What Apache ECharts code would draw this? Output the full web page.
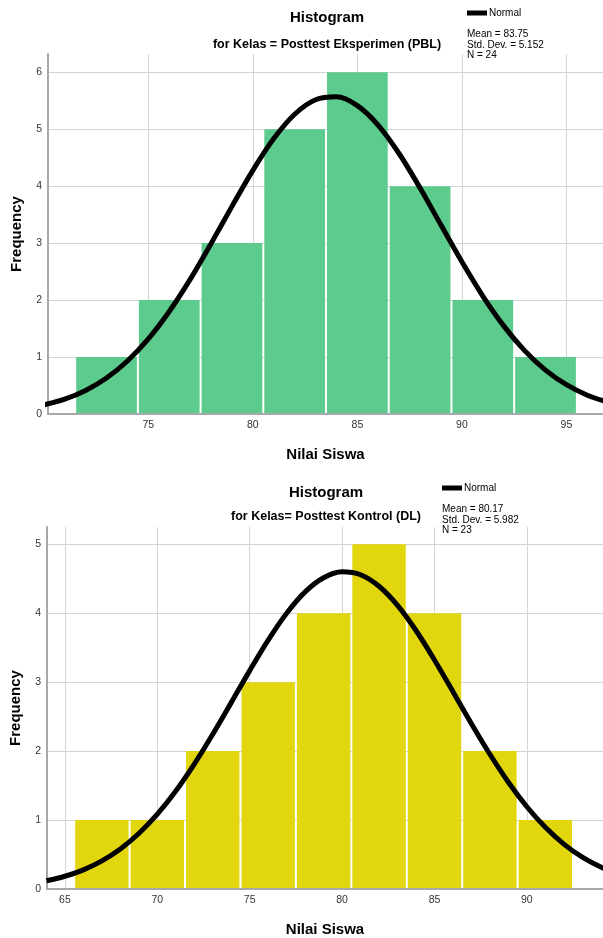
<!DOCTYPE html>
<html><head><meta charset="utf-8">
<script src="https://cdn.jsdelivr.net/npm/echarts@6/dist/echarts.min.js"></script>
<style>html,body{margin:0;padding:0;background:#fff}#c{width:603px;height:938px}</style>
</head><body><div id="c"></div>
<script>
// ---------- Data: top histogram (Posttest Eksperimen (PBL)) ----------
const binWidth = 3;
const topBinStarts = [71.5, 74.5, 77.5, 80.5, 83.5, 86.5, 89.5, 92.5];
const topCounts    = [1, 2, 3, 5, 6, 4, 2, 1];
const topCurveX = [70,71,72,73,74,75,76,77,78,79,80,81,82,83,84,85,86,87,88,89,90,91,92,93,94,95,96,97];
const topCurveY = [0.158,0.261,0.414,0.632,0.930,1.318,1.799,2.363,2.991,3.645,4.278,4.835,5.263,5.516,5.568,5.413,5.068,4.569,3.967,3.317,2.671,2.071,1.547,1.113,0.771,0.514,0.330,0.204];
const topXTicks = [75, 80, 85, 90, 95];
const topYTicks = [0, 1, 2, 3, 4, 5, 6];
const topStats = ['Mean = 83.75', 'Std. Dev. = 5.152', 'N = 24'];
const topSubtitle = 'for Kelas = Posttest Eksperimen (PBL)';

// ---------- Data: bottom histogram (Posttest Kontrol (DL)) ----------
const botBinStarts = [65.5, 68.5, 71.5, 74.5, 77.5, 80.5, 83.5, 86.5, 89.5];
const botCounts    = [1, 1, 2, 3, 4, 5, 4, 2, 1];
const botCurveX = [64,65,66,67,68,69,70,71,72,73,74,75,76,77,78,79,80,81,82,83,84,85,86,87,88,89,90,91,92,93,94,95];
const botCurveY = [0.119,0.185,0.278,0.408,0.581,0.805,1.085,1.421,1.811,2.244,2.703,3.167,3.609,3.999,4.309,4.514,4.600,4.558,4.391,4.114,3.749,3.322,2.862,2.398,1.954,1.548,1.193,0.894,0.651,0.461,0.318,0.213];
const botXTicks = [65, 70, 75, 80, 85, 90];
const botYTicks = [0, 1, 2, 3, 4, 5];
const botStats = ['Mean = 80.17', 'Std. Dev. = 5.982', 'N = 23'];
const botSubtitle = 'for Kelas= Posttest Kontrol (DL)';

const FONT = 'Liberation Sans, Arial, sans-serif';
const NARROW = 'Liberation Sans Narrow, Arial Narrow, Liberation Sans, sans-serif';

function binsData(starts, counts) {
  return starts.map((s, i) => [s, s + binWidth, counts[i]]);
}
function curveData(xs, ys) {
  return xs.map((x, i) => [x, ys[i]]);
}
function barRenderer(color) {
  return function (params, api) {
    const p0 = api.coord([api.value(0), api.value(2)]);
    const p1 = api.coord([api.value(1), 0]);
    return {
      type: 'rect',
      shape: { x: p0[0] + 1, y: p0[1], width: p1[0] - p0[0] - 2, height: p1[1] - p0[1] - 1 },
      style: { fill: color }
    };
  };
}
function xAxisCfg(gridIndex, min, max, ticks) {
  return {
    type: 'value', gridIndex, min, max,
    name: 'Nilai Siswa', nameLocation: 'middle', nameGap: 33,
    nameTextStyle: { fontSize: 15, fontWeight: 'bold', color: '#000', fontFamily: FONT },
    axisLine: { show: true, lineStyle: { color: '#a8a8a8', width: 2 } },
    axisTick: { show: false, customValues: ticks },
    axisLabel: { customValues: ticks, fontSize: 10.5, color: '#333', margin: 6, fontFamily: FONT },
    splitLine: { show: true, lineStyle: { color: '#d4d4d4', width: 1 } }
  };
}
function yAxisCfg(gridIndex, max, ticks) {
  return {
    type: 'value', gridIndex, min: 0, max,
    name: 'Frequency', nameLocation: 'middle', nameGap: 24,
    nameTextStyle: { fontSize: 15, fontWeight: 'bold', color: '#000', fontFamily: FONT },
    axisLine: { show: true, lineStyle: { color: '#a8a8a8', width: 2 } },
    axisTick: { show: false, customValues: ticks },
    axisLabel: { customValues: ticks, fontSize: 10.5, color: '#333', margin: 6, fontFamily: FONT },
    splitLine: { show: true, lineStyle: { color: '#d4d4d4', width: 1 } }
  };
}
function textEl(x, y, text, size, weight, family, align) {
  return { type: 'text', x, y, style: { text, fontSize: size, fontWeight: weight, fontFamily: family,
    fill: '#000', textAlign: align || 'center', textVerticalAlign: 'middle' } };
}
function statsEl(x, y, lines) {
  return { type: 'text', x, y, style: { text: lines.join('\n'), fontSize: 10, lineHeight: 10.5,
    fontFamily: NARROW, fill: '#000', textAlign: 'left', textVerticalAlign: 'top' } };
}

const chart = echarts.init(document.getElementById('c'), null, { renderer: 'canvas' });
chart.setOption({
  animation: false,
  backgroundColor: '#fff',
  grid: [
    { left: 48, top: 54, width: 555, height: 360, containLabel: false, outerBoundsMode: 'none' },
    { left: 47, top: 527, width: 556, height: 362, containLabel: false, outerBoundsMode: 'none' }
  ],
  xAxis: [
    xAxisCfg(0, 70.2, 96.75, topXTicks),
    xAxisCfg(1, 64.03, 94.12, botXTicks)
  ],
  yAxis: [
    yAxisCfg(0, 6.32, topYTicks),
    yAxisCfg(1, 5.25, botYTicks)
  ],
  legend: [
    { data: ['Normal'], left: 467, top: 8, itemWidth: 20, itemHeight: 5, itemGap: 2, padding: 0,
      icon: 'rect', selectedMode: false, textStyle: { fontSize: 10, color: '#000', fontFamily: NARROW, padding: [0, 0, 0, -3] } },
    { data: ['Normal'], left: 442, top: 483, itemWidth: 20, itemHeight: 5, itemGap: 2, padding: 0,
      icon: 'rect', selectedMode: false, textStyle: { fontSize: 10, color: '#000', fontFamily: NARROW, padding: [0, 0, 0, -3] } }
  ],
  series: [
    { type: 'custom', name: 'bars1', xAxisIndex: 0, yAxisIndex: 0, renderItem: barRenderer('#5dcb8d'),
      encode: { x: [0, 1], y: 2 }, data: binsData(topBinStarts, topCounts), z: 2 },
    { type: 'line', name: 'Normal', xAxisIndex: 0, yAxisIndex: 0, data: curveData(topCurveX, topCurveY),
      smooth: 0.3, showSymbol: false, clip: true, z: 3,
      lineStyle: { color: '#000', width: 5 }, itemStyle: { color: '#000' } },
    { type: 'custom', name: 'bars2', xAxisIndex: 1, yAxisIndex: 1, renderItem: barRenderer('#e2d70f'),
      encode: { x: [0, 1], y: 2 }, data: binsData(botBinStarts, botCounts), z: 2 },
    { type: 'line', name: 'Normal', xAxisIndex: 1, yAxisIndex: 1, data: curveData(botCurveX, botCurveY),
      smooth: 0.3, showSymbol: false, clip: true, z: 3,
      lineStyle: { color: '#000', width: 5 }, itemStyle: { color: '#000' } }
  ],
  graphic: [
    textEl(327, 18, 'Histogram', 15, 'bold', FONT),
    textEl(327, 45, topSubtitle, 12.5, 'bold', NARROW),
    statsEl(467, 29, topStats),
    textEl(326, 493, 'Histogram', 15, 'bold', FONT),
    textEl(326, 517, botSubtitle, 12.5, 'bold', NARROW),
    statsEl(442, 504, botStats)
  ]
});
</script>
</body></html>
